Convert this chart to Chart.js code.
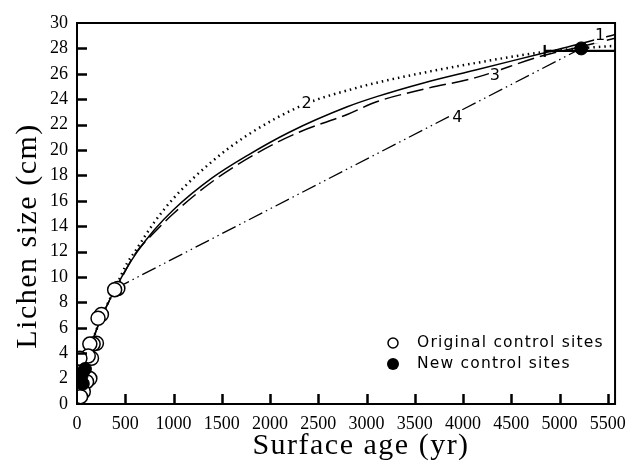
<!DOCTYPE html>
<html>
<head>
<meta charset="utf-8">
<script src="https://cdn.jsdelivr.net/npm/chart.js@4.4.1/dist/chart.umd.min.js"></script>
<style>
  html, body { margin: 0; padding: 0; background: #fff; }
  #wrap { width: 635px; height: 469px; }
</style>
</head>
<body>
<div id="wrap"><canvas id="chart"></canvas></div>
<script>
// Данные
const xTicks = [0, 500, 1000, 1500, 2000, 2500, 3000, 3500, 4000, 4500, 5000, 5500];
const yTicks = [0, 2, 4, 6, 8, 10, 12, 14, 16, 18, 20, 22, 24, 26, 28, 30];

// исходные контрольные точки (пустые кружки)
const origX = [423, 390, 253, 218, 201, 167, 133, 150, 116, 30, 133, 99, 65, 37];
const origY = [9.1, 9.0, 7.05, 6.75, 4.78, 4.72, 4.72, 3.6, 3.78, 3.6, 2.0, 1.76, 0.97, 0.58];

// новые контрольные точки (чёрные)
const newX = [82, 50, 40, 60, 5225];
const newY = [2.75, 2.3, 1.9, 1.6, 28.0];

// кривая 1 (сплошная)
const c1X = [0, 50, 100, 200, 300, 400, 500, 625, 800, 1000, 1400, 1772, 2200, 2800, 3105, 3600, 4130, 4815, 5185, 5575];
const c1Y = [0, 2.0, 3.5, 5.8, 7.6, 9.1, 10.5, 12.0, 13.7, 15.3, 17.8, 19.6, 21.4, 23.4, 24.2, 25.3, 26.3, 27.6, 28.3, 29.1];

// кривая 2 (точки)
const c2X = [0, 100, 200, 300, 400, 520, 600, 800, 1000, 1400, 1772, 2360, 2900, 3105, 3600, 4130, 4815, 5200, 5575];
const c2Y = [0, 3.4, 5.8, 7.6, 9.2, 11.1, 12.0, 14.3, 16.2, 19.1, 21.2, 23.6, 24.9, 25.3, 26.1, 26.85, 27.7, 28.0, 28.2];

// кривая 3 (штрихи)
const c3X = [0, 100, 200, 300, 400, 600, 800, 1000, 1400, 1875, 2300, 2800, 3105, 3600, 4130, 4815, 5200, 5575];
const c3Y = [0, 3.5, 5.8, 7.6, 9.0, 11.8, 13.5, 15.0, 17.5, 19.8, 21.4, 22.8, 23.8, 24.8, 25.7, 27.4, 28.1, 28.8];

// кривая 4 (штрих-пунктир), прямая от 400 лет до последней точки
const c4X = [400, 5225];
const c4Y = [9.1, 28.0];

// горизонтальный отрезок у верхнего края
const flatX = [4846, 5575];
const flatY = [27.8, 27.8];

// подписи кривых
const curveLabels = ['1', '2', '3', '4'];
const curveLabelX = [5420, 2380, 4330, 3940];
const curveLabelY = [29.0, 23.6, 25.8, 22.5];

const legendNames = ['Original control sites', 'New control sites'];
const xTitle = 'Surface age (yr)';
const yTitle = 'Lichen size (cm)';

function toPoints(xs, ys) {
    return xs.map((x, i) => ({ x: x, y: ys[i] }));
}

function lineSet(xs, ys, dash, width, smooth) {
    return {
        data: toPoints(xs, ys),
        showLine: true,
        borderColor: '#000',
        borderWidth: width,
        borderDash: dash,
        borderCapStyle: 'butt',
        pointRadius: 0,
        cubicInterpolationMode: smooth ? 'monotone' : 'default',
        tension: 0,
        order: 2
    };
}

const serif = '"Liberation Serif", "Times New Roman", serif';
const sans = '"DejaVu Sans", Arial, sans-serif';

// рамка, засечки внутрь, подписи осей и кривых, легенда
const decorPlugin = {
    id: 'decor',
    afterDatasetsDraw(chart) {
        const ctx = chart.ctx;
        const a = chart.chartArea;
        const xs = chart.scales.x;
        const ys = chart.scales.y;
        ctx.save();
        ctx.strokeStyle = '#000';
        ctx.lineWidth = 2;
        ctx.strokeRect(a.left, a.top, a.right - a.left, a.bottom - a.top);

        ctx.lineWidth = 2.5;
        ctx.beginPath();
        xTicks.forEach(v => {
            if (v === 0) return;
            const px = Math.round(xs.getPixelForValue(v)) + 0.5;
            ctx.moveTo(px, a.bottom);
            ctx.lineTo(px, a.bottom - 10);
        });
        yTicks.forEach(v => {
            if (v === 0 || v === 30) return;
            const py = Math.round(ys.getPixelForValue(v)) + 0.5;
            ctx.moveTo(a.left, py);
            ctx.lineTo(a.left + 10, py);
        });
        ctx.stroke();

        ctx.font = '16px ' + sans;
        ctx.textAlign = 'center';
        ctx.textBaseline = 'middle';
        curveLabels.forEach((t, i) => {
            const px = xs.getPixelForValue(curveLabelX[i]);
            const py = ys.getPixelForValue(curveLabelY[i]);
            ctx.fillStyle = '#fff';
            ctx.fillRect(px - 6, py - 8, 12, 16);
            ctx.fillStyle = '#000';
            ctx.fillText(t, px, py);
        });

        // подписи осей (чуть разрежённые, как в оригинале)
        ctx.fillStyle = '#000';
        ctx.font = '30px ' + serif;
        ctx.letterSpacing = '1.5px';
        ctx.fillText(xTitle, 361, 446);
        ctx.save();
        ctx.translate(28, 236);
        ctx.rotate(-Math.PI / 2);
        ctx.fillText(yTitle, 0, 0);
        ctx.restore();

        // легенда
        ctx.textAlign = 'left';
        ctx.font = '15.5px ' + sans;
        ctx.letterSpacing = '1.2px';
        const lx = 393, ly = [343, 364];
        ctx.lineWidth = 1.5;
        ctx.beginPath();
        ctx.arc(lx, ly[0], 5, 0, Math.PI * 2);
        ctx.fillStyle = '#fff';
        ctx.fill();
        ctx.stroke();
        ctx.beginPath();
        ctx.arc(lx, ly[1], 6, 0, Math.PI * 2);
        ctx.fillStyle = '#000';
        ctx.fill();
        ctx.fillText(legendNames[0], 417, ly[0]);
        ctx.fillText(legendNames[1], 417, ly[1]);
        ctx.restore();
    }
};

const ctx = document.getElementById('chart').getContext('2d');

const chart = new Chart(ctx, {
    type: 'scatter',
    data: {
        datasets: [
            {
                label: legendNames[0],
                data: toPoints(origX, origY),
                pointRadius: 7,
                pointBackgroundColor: '#fff',
                pointBorderColor: '#000',
                pointBorderWidth: 1.5,
                order: 1
            },
            {
                label: legendNames[1],
                data: toPoints(newX, newY),
                pointRadius: 6.5,
                pointBackgroundColor: '#000',
                pointBorderColor: '#000',
                pointBorderWidth: 1,
                order: 0
            },
            lineSet(c1X, c1Y, [], 1.5, true),
            lineSet(c2X, c2Y, [1.5, 4], 2.5, true),
            lineSet(c3X, c3Y, [17, 6], 1.5, true),
            lineSet(c4X, c4Y, [15, 4, 1.5, 4, 1.5, 4], 1.3, false),
            Object.assign(lineSet(flatX, flatY, [], 2.2, false), {
                pointStyle: 'line',
                rotation: 90,
                pointRadius: [6, 0],
                pointBorderWidth: 2.2,
                pointBorderColor: '#000'
            })
        ]
    },
    options: {
        responsive: true,
        maintainAspectRatio: false,
        animation: false,
        layout: { padding: { left: 0, right: 14, top: 23, bottom: 0 } },
        plugins: {
            legend: { display: false },
            tooltip: { enabled: false }
        },
        scales: {
            x: {
                type: 'linear',
                min: 0,
                max: 5575,
                afterBuildTicks: s => { s.ticks = xTicks.map(v => ({ value: v })); },
                afterFit: s => { s.height = 65; },
                grid: { display: false, drawTicks: false },
                border: { display: false },
                ticks: {
                    color: '#000',
                    padding: 9,
                    maxRotation: 0,
                    autoSkip: false,
                    font: { family: serif, size: 18 },
                    callback: v => String(v)
                }
            },
            y: {
                min: 0,
                max: 30,
                afterBuildTicks: s => { s.ticks = yTicks.map(v => ({ value: v })); },
                afterFit: s => { s.width = 77; },
                grid: { display: false, drawTicks: false },
                border: { display: false },
                ticks: {
                    color: '#000',
                    padding: 9,
                    autoSkip: false,
                    font: { family: serif, size: 18 },
                    callback: v => String(v)
                }
            }
        }
    },
    plugins: [decorPlugin]
});
</script>
</body>
</html>
